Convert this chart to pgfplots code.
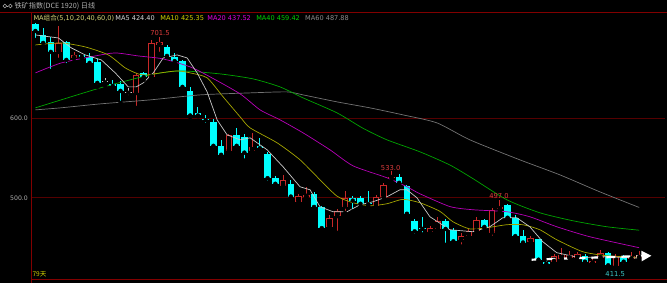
\documentclass[border=0pt]{standalone}
\usepackage{fontspec}
\setmainfont{DejaVu Sans}
\newfontfamily\cjk{Noto Sans CJK SC}
\usepackage{pgfplots}
\pgfplotsset{compat=1.18}
\usepackage{pgfplotstable}
\usetikzlibrary{arrows.meta}
\definecolor{cy}{RGB}{0,255,255}
\definecolor{rd}{RGB}{200,40,40}
\definecolor{gridred}{RGB}{85,0,0}
\definecolor{framered}{RGB}{130,0,0}
\definecolor{labgrey}{RGB}{175,175,175}
\definecolor{dojigrey}{RGB}{200,200,200}
\definecolor{cmafive}{RGB}{200,200,200}
\definecolor{cmaten}{RGB}{165,165,0}
\definecolor{cmatwenty}{RGB}{185,0,185}
\definecolor{cmaforty}{RGB}{0,165,0}
\definecolor{cmasixty}{RGB}{115,115,115}
\definecolor{tmaten}{RGB}{210,210,0}
\definecolor{tmatwenty}{RGB}{225,0,225}
\definecolor{tmaforty}{RGB}{0,210,0}
\definecolor{tmasixty}{RGB}{140,140,140}
\definecolor{tmaset}{RGB}{215,215,120}
\definecolor{annred}{RGB}{220,60,60}
\definecolor{anncy}{RGB}{60,200,200}

\pgfplotstableread{
i o h l c
0 717.5 719 697.5 708.75
1 703.75 712.5 688.75 693.75
2 695 701 658.75 682.5
4 695 696 666 672.5
6 678.75 679 675 676.5
7 676 681 663.75 668.75
8 670 673.75 638.75 643.75
10 642.5 647 637 640
11 642.5 646 618.75 633.75
14 656 658 647.5 651
17 688.75 691 676 677.5
18 676 681 669 671
19 671 672 633.75 638.75
20 634 639 601 603
21 606 613 602 603
22 598 604 591 597
23 595 598 560 565
24 565 572.5 552 553.75
26 578.75 587.5 560 565
27 576.5 580 546.5 556.5
29 565 575 560 562
30 555 557 518.75 524.5
31 524.5 527 515 517.5
33 517.5 522.5 500 501.5
36 505 507 485 488.5
37 488.5 490 460 462
41 500 502.5 483 496.5
42 500 502 489 492.5
43 494 508 490 492
47 526 530 517 518.75
48 515 516 478 480
49 471.5 474 452.5 458
50 462.5 476 454 461
53 471.5 473 441 461
54 460 462 443 445.5
58 472.5 473 462 463.5
61 491 492 474 475
62 475 478 448 452
63 452.5 460 442 444
65 448 449 421 422.5
66 420 421 413 417.5
71 426.5 430 418 420
74 431 432 413 415.5
76 426.5 428 415 420
}\down

\pgfplotstableread{
i o h l c
3 682.5 715 672.5 693.75
5 675 682.5 670 678.75
13 631 656 612.5 654
15 651 697.5 650 693.75
16 691.25 701.5 680 695
25 559 580 556 578.75
28 559 581 556 564
32 515 529 511 522.5
34 495 505 491 502.5
35 501.5 514 500 503.75
38 463.75 479 460 475
39 477 486 456 483
40 489 508 481 500
44 490 503 489 501
45 501.5 518 500 516
46 525 533 521 526.25
51 457 465 454 462.5
52 461 476.5 459 470.5
55 447 456 439 452.5
56 452.5 461 449 458
57 458 476.5 455 472.5
59 456.5 487 450 485
60 486 497 483 489
64 445 452 443 450
67 420 430 416 426.5
68 423 437 420 428.75
69 424.5 433 420 428.75
70 425 432 422 429
72 418 423 415 421
73 424.5 434 422 431
75 414 429 411.5 426.5
77 423 432 421 427.5
78 425 433 421 428.75
}\up

\pgfplotstableread{
i o h l c
9 645 650 640 645
12 632 637.5 626 632
}\doji

\pgfplotsset{
  vbar/.style 2 args={only marks, mark=none, forget plot,
    error bars/.cd, y dir=plus, y explicit, error mark=none,
    error bar style={draw=#1, line width=#2, line cap=butt}},
}

\begin{document}
\begin{tikzpicture}
% background: axis box lower-left is at (0,0); picture spans x -31..636, y -3..280 (bp)
\fill[black] (-31bp,-3bp) rectangle (636bp,280bp);
\begin{axis}[scale only axis,
  width=634bp, height=268bp,
  xmin=-0.52, xmax=81.29, ymin=397.5, ymax=732.5,
  axis line style={draw=none},
  xtick=\empty, ytick={500,600},
  ymajorgrids, grid style={gridred, line width=0.7bp},
  major tick length=0pt,
  yticklabel style={font=\fontsize{6.2}{7}\selectfont, text=labgrey},
  yticklabel={\pgfmathprintnumber[fixed,fixed zerofill,precision=1,assume math mode=true]{\tick}},
  clip=true]
% wicks
\addplot[vbar={cy}{0.9bp}] table[x=i, y=l, y error plus expr={\thisrow{h}-\thisrow{l}}] {\down};
\addplot[vbar={rd}{0.9bp}] table[x=i, y=l, y error plus expr={\thisrow{h}-\thisrow{l}}] {\up};
\addplot[vbar={dojigrey}{0.9bp}] table[x=i, y=l, y error plus expr={\thisrow{h}-\thisrow{l}}] {\doji};
% bodies
\addplot[vbar={cy}{6.6bp}] table[x=i, y=c, y error plus expr={max(\thisrow{o}-\thisrow{c},1.2)}] {\down};
\addplot[vbar={rd}{6.6bp}] table[x=i, y=o, y error plus expr={max(\thisrow{c}-\thisrow{o},1.2)}] {\up};
\addplot[vbar={black}{4.8bp}] table[x=i, y expr={\thisrow{o}+1.0}, y error plus expr={max(\thisrow{c}-\thisrow{o}-2.0,0)}] {\up};
\addplot[vbar={dojigrey}{6.6bp}] table[x=i, y expr={\thisrow{o}-0.6}, y error plus expr={1.2}] {\doji};
% moving averages
\addplot[cmasixty, line width=0.7bp, smooth, tension=0.4] coordinates {
(0,610) (3.23,612.5) (8.39,617.5) (14.84,622.5) (21.29,628.75) (27.74,631.25) (32.52,632.5) (34.58,628.75) (38.97,620) (43.23,612.5) (47.48,603.75) (51.87,593.75) (56.13,572.5) (62.58,547.5) (67.74,528.75) (72.9,507.5) (78,487.9)};
\addplot[cmaforty, line width=0.7bp, smooth, tension=0.4] coordinates {
(0,612.5) (8.39,637.5) (14.84,653.75) (18.71,658.75) (23.87,655) (28.13,648.75) (31.61,638.75) (34.58,625) (38.97,606.25) (42.32,587) (45.42,572.5) (49.68,557.5) (53.55,541) (56.52,524) (60.9,497.5) (65.16,481.25) (69.42,471.25) (73.81,463.75) (78,459.4)};
\addplot[cmatwenty, line width=0.7bp, smooth, tension=0.4] coordinates {
(0,656.25) (3.35,668.75) (7.74,677.5) (10.32,681.25) (13.29,677.5) (16.52,673.75) (20,663.75) (22.58,651.25) (26.45,630) (29.03,610) (31.61,597.5) (34.58,581.25) (38.06,560) (41.03,540) (45.42,525) (48,513.75) (49.68,505) (53.55,489) (56.52,485) (60.9,482.5) (63.87,476.25) (67.35,463.75) (71.61,451.25) (78,437.5)};
\addplot[cmaten, line width=0.7bp, smooth, tension=0.4] coordinates {
(0,691.25) (3.35,693.75) (6.45,688.75) (9.42,678.75) (11.61,662.5) (13.29,655) (14.45,653.75) (16.13,656.25) (18.32,658.75) (20,656.25) (22.19,650) (24.26,626.25) (26.45,601.25) (27.74,587.5) (31.23,568.75) (34.19,547.5) (36.77,522.5) (38.97,502) (41.03,493.75) (43.23,490) (45.42,492.5) (47.48,498) (49.68,493.75) (52.26,483) (53.94,470) (56.13,461) (58.32,462.5) (60.9,466.25) (62.97,466.25) (65.16,460) (67.35,447.5) (70.71,432.5) (73.81,427.5) (78,425.35)};
\addplot[cmafive, line width=0.7bp] coordinates {
(0,703.75) (2.97,700) (4.65,687.5) (6.45,678.75) (8.52,672.5) (10.32,656.25) (12,638.75) (13.03,638.75) (13.94,643.75) (15.23,656.25) (16.52,675) (18.32,678.75) (19.61,675) (20.9,656.25) (22.19,632.5) (23.48,597.5) (24.77,578.75) (26.45,572.5) (27.74,575) (29.94,560) (32,538.75) (34.19,513.75) (35.48,510) (36.77,488.75) (38.45,482.5) (40.26,482.5) (41.94,491.25) (43.61,495) (45.42,501.25) (47.1,510) (48,510) (49.29,500) (50.97,476.25) (53.55,460) (56.52,457.5) (58.71,463.75) (60.39,475) (62.19,475) (63.87,463.75) (65.55,445) (67.35,431.25) (70.32,425) (73.81,426.25) (78,424.4)};
% annotation arrow
\addplot[white, line width=2.2bp, dash pattern=on 9bp off 6bp, -{Triangle[length=10bp,width=10bp]}] coordinates {(64.1,422.5) (79.6,427.5)};
% price labels
\node[text=annred, font=\fontsize{6.8}{8}\selectfont] at (axis cs:16.1,706) {701.5};
\node[text=annred, font=\fontsize{6.8}{8}\selectfont] at (axis cs:45.9,537) {533.0};
\node[text=annred, font=\fontsize{6.8}{8}\selectfont] at (axis cs:59.9,502.5) {497.0};
\node[text=anncy, font=\fontsize{6.8}{8}\selectfont] at (axis cs:74.9,405) {411.5};
\end{axis}
\draw[framered, line width=0.8bp] (-31bp,268bp) -- (636bp,268bp);
\draw[framered, line width=0.8bp] (0bp,268bp) -- (0bp,-3bp);
\draw[framered, line width=0.8bp] (0bp,0bp) -- (636bp,0bp);
% title
\draw[labgrey, line width=0.6bp] (-26.5bp,274bp) circle (1.9bp) (-21bp,274bp) circle (1.9bp);
\draw[labgrey, line width=0.6bp] (-24.6bp,274bp) -- (-22.9bp,274bp);
\node[anchor=west, inner sep=0, text=labgrey, font=\fontsize{7.2}{8}\selectfont\cjk] at (-17bp,273.5bp) {铁矿指数(DCE 1920) 日线};
% legend row
\node[anchor=west, inner sep=0, text=tmaset, font=\fontsize{6.6}{8}\selectfont] at (2bp,262bp) {MA{\cjk 组合}(5,10,20,40,60,0)};
\node[anchor=west, inner sep=0, text=white!85!black, font=\fontsize{6.6}{8}\selectfont] at (84bp,262bp) {MA5 424.40};
\node[anchor=west, inner sep=0, text=tmaten, font=\fontsize{6.6}{8}\selectfont] at (129bp,262bp) {MA10 425.35};
\node[anchor=west, inner sep=0, text=tmatwenty, font=\fontsize{6.6}{8}\selectfont] at (176bp,262bp) {MA20 437.52};
\node[anchor=west, inner sep=0, text=tmaforty, font=\fontsize{6.6}{8}\selectfont] at (225bp,262bp) {MA40 459.42};
\node[anchor=west, inner sep=0, text=tmasixty, font=\fontsize{6.6}{8}\selectfont] at (274bp,262bp) {MA60 487.88};
\node[anchor=west, inner sep=0, text=tmaten, font=\fontsize{6.6}{8}\selectfont\cjk] at (1bp,5bp) {79天};
\end{tikzpicture}
\end{document}
